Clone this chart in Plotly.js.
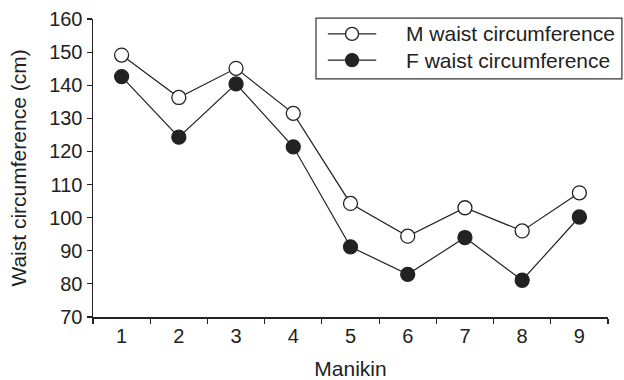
<!DOCTYPE html>
<html>
<head>
<meta charset="utf-8">
<script src="https://cdn.plot.ly/plotly-3.0.1.min.js"></script>
<style>
  html, body { margin: 0; padding: 0; background: #fff; }
  #chart { width: 624px; height: 380px; }
</style>
</head>
<body>
<div id="chart"></div>
<script>
// Manikin numbers along the x axis
const manikins = ['1', '2', '3', '4', '5', '6', '7', '8', '9'];
// Waist circumference (cm), male and female
const maleWaist = [149.1, 136.3, 145.1, 131.5, 104.3, 94.4, 103.0, 96.0, 107.5];
const femaleWaist = [142.6, 124.3, 140.4, 121.4, 91.2, 82.9, 94.0, 81.1, 100.2];
const yTicks = [70, 80, 90, 100, 110, 120, 130, 140, 150, 160];
const seriesNames = ['M waist circumference', 'F waist circumference'];

const ink = '#222';
const family = 'Liberation Sans, Arial, sans-serif';
const lineStyle = { color: ink, width: 1.2 };
const openMarker = { symbol: 'circle', size: 14, color: '#fff', line: { color: ink, width: 1.3 } };
const solidMarker = { symbol: 'circle', size: 14, color: ink, line: { color: ink, width: 1.3 } };

const traces = [
  { x: manikins, y: maleWaist, name: seriesNames[0], type: 'scatter', mode: 'lines+markers',
    line: lineStyle, marker: openMarker, cliponaxis: false },
  { x: manikins, y: femaleWaist, name: seriesNames[1], type: 'scatter', mode: 'lines+markers',
    line: lineStyle, marker: solidMarker, cliponaxis: false }
];

// Boxed key in the upper right, drawn on a hidden overlay axis spanning the plot area (0..1)
const keyRows = [0.950, 0.862];
const keyLineX = [0.456, 0.550];
const keyMarkX = 0.503;
const keyMarkers = [openMarker, solidMarker];
keyRows.forEach((ky, i) => {
  traces.push({ x: keyLineX, y: [ky, ky], xaxis: 'x2', yaxis: 'y2', type: 'scatter', mode: 'lines',
    line: lineStyle, showlegend: false, hoverinfo: 'skip', cliponaxis: false });
  traces.push({ x: [keyMarkX], y: [ky], xaxis: 'x2', yaxis: 'y2', type: 'scatter', mode: 'markers',
    marker: Object.assign({}, keyMarkers[i], { size: 13 }), showlegend: false, hoverinfo: 'skip', cliponaxis: false });
});

const layout = {
  width: 624, height: 380,
  margin: { l: 93, r: 16, t: 19, b: 63 },
  paper_bgcolor: '#fff', plot_bgcolor: '#fff',
  font: { family: family, size: 20, color: ink },
  showlegend: false,
  xaxis: {
    type: 'category', range: [-0.5, 8.5],
    tickson: 'boundaries', ticks: 'outside', ticklen: 5, tickwidth: 1.2, tickcolor: ink,
    showline: true, linecolor: ink, linewidth: 1.5, showgrid: false, zeroline: false,
    tickfont: { family: family, size: 20, color: ink },
    title: { text: 'Manikin', font: { family: family, size: 21, color: ink }, standoff: 17 },
    fixedrange: true
  },
  yaxis: {
    range: [70, 160], tickmode: 'array', tickvals: yTicks,
    ticks: 'outside', ticklen: 5, tickwidth: 1.2, tickcolor: ink,
    showline: true, linecolor: ink, linewidth: 1.5, showgrid: false, zeroline: false,
    tickfont: { family: family, size: 20, color: ink },
    title: { text: 'Waist circumference (cm)', font: { family: family, size: 21, color: ink }, standoff: 17 },
    fixedrange: true
  },
  xaxis2: { overlaying: 'x', range: [0, 1], visible: false, fixedrange: true },
  yaxis2: { overlaying: 'y', range: [0, 1], visible: false, fixedrange: true },
  shapes: [{
    type: 'rect', xref: 'paper', yref: 'paper',
    x0: 0.433, x1: 1.027, y0: 0.799, y1: 1.003,
    line: { color: '#333', width: 1.2 }, fillcolor: 'rgba(0,0,0,0)', layer: 'below'
  }],
  annotations: keyRows.map((ky, i) => ({
    xref: 'paper', yref: 'paper', x: 0.604, y: ky, xanchor: 'left', yanchor: 'middle',
    text: seriesNames[i], showarrow: false,
    font: { family: family, size: 21, color: ink }
  }))
};

Plotly.newPlot('chart', traces, layout, { displayModeBar: false, staticPlot: true });
</script>
</body>
</html>
